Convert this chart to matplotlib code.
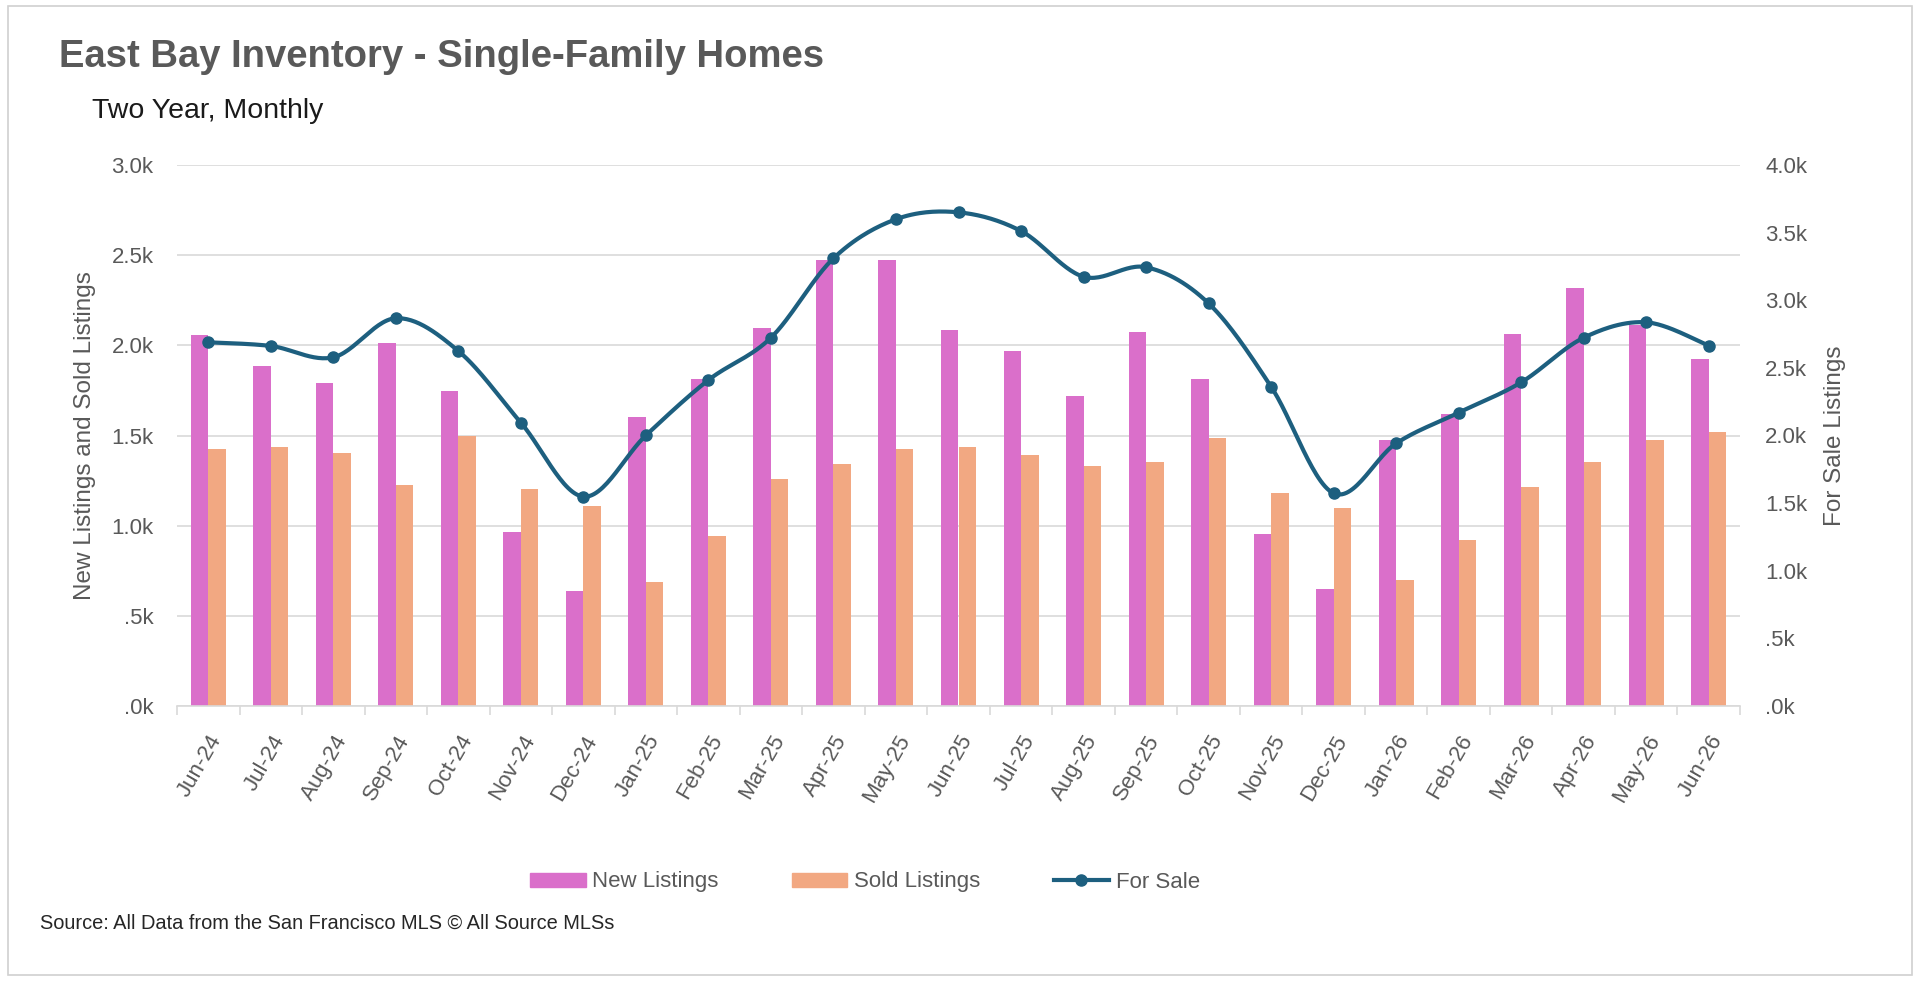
import numpy as np
import matplotlib
matplotlib.use("Agg")
import matplotlib.pyplot as plt
from matplotlib.patches import Rectangle
from matplotlib.lines import Line2D
from matplotlib.ticker import FuncFormatter, MultipleLocator
from matplotlib.transforms import ScaledTranslation

plt.rcParams['font.family'] = ['Liberation Sans', 'DejaVu Sans']

months = ['Jun-24', 'Jul-24', 'Aug-24', 'Sep-24', 'Oct-24', 'Nov-24', 'Dec-24',
          'Jan-25', 'Feb-25', 'Mar-25', 'Apr-25', 'May-25', 'Jun-25', 'Jul-25',
          'Aug-25', 'Sep-25', 'Oct-25', 'Nov-25', 'Dec-25', 'Jan-26', 'Feb-26',
          'Mar-26', 'Apr-26', 'May-26', 'Jun-26']
new_listings = [2060, 1885, 1790, 2015, 1745, 967, 638, 1600, 1813, 2095, 2471, 2471,
                2085, 1967, 1721, 2074, 1813, 954, 649, 1473, 1617, 2061, 2320, 2115, 1925]
sold_listings = [1425, 1438, 1401, 1225, 1497, 1201, 1109, 686, 944, 1261, 1344, 1425,
                 1438, 1392, 1333, 1355, 1486, 1179, 1096, 697, 920, 1213, 1355, 1473, 1519]
for_sale = [2689, 2662, 2578, 2867, 2625, 2095, 1548, 2001, 2410, 2723, 3310, 3599,
            3650, 3512, 3174, 3244, 2977, 2361, 1573, 1942, 2169, 2393, 2723, 2837, 2664]

PINK = '#DA6FCA'
ORANGE = '#F2A882'
LINE = '#1D5F7F'
GRID = '#D9D9D9'
TXT = '#595959'

W, H = 1920, 981
fig = plt.figure(figsize=(W / 100, H / 100), dpi=100)

# outer frame
fig.patches.append(Rectangle((8 / W, 6 / H), (1912 - 8) / W, (975 - 6) / H,
                             transform=fig.transFigure, fill=False,
                             edgecolor='#D0D0D0', linewidth=1.2))

left, right, top, bottom = 177, 1740, 165, 706
ax = fig.add_axes([left / W, 1 - bottom / H, (right - left) / W, (bottom - top) / H])
ax2 = ax.twinx()

x = np.arange(len(months))
bw = 0.28
ax.bar(x - bw / 2, new_listings, width=bw, color=PINK, label='New Listings', zorder=2)
ax.bar(x + bw / 2, sold_listings, width=bw, color=ORANGE, label='Sold Listings', zorder=2)

# Excel-style smoothed line (cubic Bezier through points)
pts = np.column_stack([x, np.array(for_sale, dtype=float)])
segs = []
t = np.linspace(0, 1, 30)[:, None]
for i in range(len(pts) - 1):
    p0, p3 = pts[i], pts[i + 1]
    pm = pts[i - 1] if i > 0 else pts[i]
    pp = pts[i + 2] if i + 2 < len(pts) else pts[i + 1]
    c1 = p0 + (p3 - pm) / 6
    c2 = p3 - (pp - p0) / 6
    seg = (1 - t) ** 3 * p0 + 3 * (1 - t) ** 2 * t * c1 + 3 * (1 - t) * t ** 2 * c2 + t ** 3 * p3
    segs.append(seg if i == 0 else seg[1:])
curve = np.vstack(segs)
ax2.plot(curve[:, 0], curve[:, 1], color=LINE, linewidth=3.0, solid_capstyle='round', zorder=3)
ax2.plot(x, for_sale, linestyle='none', marker='o', markersize=8, color=LINE, zorder=4)

ax.set_xlim(-0.5, len(months) - 0.5)
ax.set_ylim(0, 3000)
ax2.set_ylim(0, 4000)


def kfmt(v, pos):
    s = f"{v / 1000:.1f}k"
    if s.startswith('0'):
        s = s[1:]
    return s


ax.yaxis.set_major_locator(MultipleLocator(500))
ax2.yaxis.set_major_locator(MultipleLocator(500))
ax.yaxis.set_major_formatter(FuncFormatter(kfmt))
ax2.yaxis.set_major_formatter(FuncFormatter(kfmt))

ax.grid(axis='y', color=GRID, linewidth=1.2, zorder=0)
ax.set_axisbelow(True)

for a in (ax, ax2):
    for s in ('top', 'left', 'right'):
        a.spines[s].set_visible(False)
ax2.spines['bottom'].set_visible(False)
ax.spines['bottom'].set_color(GRID)
ax.spines['bottom'].set_linewidth(1.2)

ax.tick_params(axis='y', length=0, pad=17, labelsize=16, labelcolor=TXT)
ax2.tick_params(axis='y', length=0, pad=18, labelsize=16, labelcolor=TXT)

ax.set_xticks(x)
ax.set_xticklabels(months, rotation=60, ha='right', va='center', rotation_mode='anchor')
ax.tick_params(axis='x', which='major', length=0, pad=22, labelsize=16, labelcolor=TXT)
ax.set_xticks(np.arange(-0.5, len(months), 1.0), minor=True)
ax.tick_params(axis='x', which='minor', length=6.5, width=1.2, color=GRID)
shift = ScaledTranslation(9 / 100, 0, fig.dpi_scale_trans)
for lbl in ax.get_xticklabels():
    lbl.set_transform(lbl.get_transform() + shift)

ax.set_ylabel('New Listings and Sold Listings', fontsize=17.5, color=TXT, va='center')
ax.yaxis.set_label_coords((85 - left) / (right - left), 0.5)
ax2.set_ylabel('For Sale Listings', fontsize=17.5, color=TXT, rotation=90, va='center')
ax2.yaxis.set_label_coords((1835 - left) / (right - left), 0.5)

fig.text(59 / W, 1 - 67 / H, 'East Bay Inventory - Single-Family Homes', fontsize=27.5,
         fontweight='bold', color=TXT, ha='left', va='baseline')
fig.text(92 / W, 1 - 118 / H, 'Two Year, Monthly', fontsize=20.5, color='#1A1A1A',
         ha='left', va='baseline')
fig.text(40 / W, 1 - 929 / H, 'Source: All Data from the San Francisco MLS \u00a9 All Source MLSs',
         fontsize=14.4, color='#262626', ha='left', va='baseline')

handles = [Rectangle((0, 0), 1, 1, color=PINK), Rectangle((0, 0), 1, 1, color=ORANGE),
           Line2D([0], [0], color=LINE, linewidth=3.0, marker='o', markersize=8)]
fig.legend(handles, ['New Listings', 'Sold Listings', 'For Sale'], loc='center',
           bbox_to_anchor=(865 / W, 1 - 882 / H), ncol=3, frameon=False, fontsize=16,
           handlelength=2.5, handleheight=0.6, handletextpad=0.3, columnspacing=3.3,
           numpoints=1, labelcolor=TXT)

fig.savefig('out.png', dpi=100, facecolor='white')
